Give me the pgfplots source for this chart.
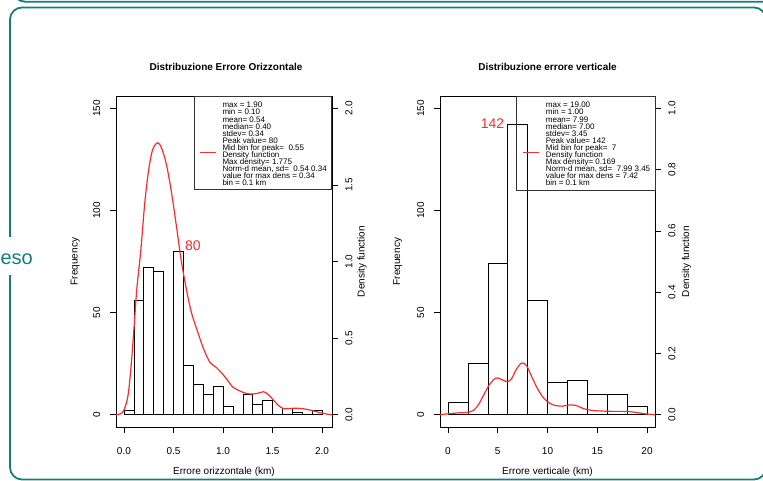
\documentclass[border=0pt]{standalone}
\usepackage{pgfplots}
\pgfplotsset{compat=1.18}
\usepackage{fontspec}
\setmainfont{Liberation Sans}
\definecolor{frame}{RGB}{18,128,120}
\definecolor{rred}{RGB}{250,45,45}
\newcommand{\tenpt}{\fontsize{10}{12}\selectfont}
\newcommand{\legfont}{\fontsize{8}{8}\selectfont}
\pgfplotsset{
  rbase/.style={scale only axis, height=331pt, anchor=south west,
    /pgf/number format/assume math mode=true,
    tick align=outside, major tick length=6pt,
    tick style={black, line width=0.6pt},
    axis line style={line width=0.6pt},
    ticklabel style={font=\tenpt},
  },
  freqaxis/.style={rbase, ymin=-6, ymax=156, ytick={0,50,100,150},
    xtick pos=left, ytick pos=left,
    yticklabel style={xshift=-9.5pt, rotate=90, anchor=south, inner sep=0pt},
    xticklabel style={anchor=north, inner sep=0pt, yshift=-14pt},
  },
  densaxis/.style={rbase, axis y line*=right, axis x line=none,
    yticklabel style={xshift=7.2pt, rotate=90, anchor=north, inner sep=0pt,
      /pgf/number format/.cd, fixed, fixed zerofill, precision=1},
  },
}
\begin{document}
\begin{tikzpicture}[x=1pt,y=1pt]
\path[use as bounding box] (0,0) rectangle (763,480);
\clip (0,0) rectangle (763,480);
\fill[white] (0,0) rectangle (763,480);
\draw[frame, line width=1.8pt, rounded corners=12pt] (13,478.3) rectangle (780,540);
\draw[frame, line width=1.8pt, rounded corners=12pt] (10,0.5) rectangle (766,472.5);
\fill[white] (0,205) rectangle (24,243);
\node[anchor=base east, inner sep=0pt, text=frame, font=\fontsize{20}{21}\selectfont] at (33,215) {eso};

% ---------- left plot ----------
\begin{axis}[freqaxis, at={(116pt,53pt)}, width=216pt,
  xmin=-0.08, xmax=2.1, xtick={0,0.5,1,1.5,2},
  xticklabel style={/pgf/number format/.cd, fixed, fixed zerofill, precision=1}]
\addplot[ybar interval, draw=black, fill=none, line width=0.55pt] coordinates {
(0.0,2) (0.1,56) (0.2,72) (0.3,70) (0.4,0) (0.5,80) (0.6,24) (0.7,15) (0.8,10) (0.9,14)
(1.0,4) (1.1,0) (1.2,10) (1.3,5) (1.4,7) (1.5,0) (1.6,3) (1.7,1) (1.8,0) (1.9,2) (2.0,2)};
\node[text=rred, anchor=base west, inner sep=0pt, font=\fontsize{14}{14}\selectfont] at (axis cs:0.616,80.4) {80};
\end{axis}
\begin{axis}[densaxis, at={(116pt,53pt)}, width=216pt,
  xmin=-0.08, xmax=2.1, ymin=-0.08, ymax=2.08, ytick={0,0.5,1,1.5,2}]
\addplot[rred, line width=1.2pt, smooth] coordinates {
(-0.08,0) (-0.04,0.005) (0,0.03) (0.04,0.12) (0.07,0.3) (0.1,0.55) (0.13,0.82) (0.17,1.07)
(0.21,1.38) (0.25,1.6) (0.29,1.73) (0.34,1.775) (0.38,1.74) (0.43,1.63) (0.48,1.45)
(0.53,1.23) (0.58,1.0) (0.63,0.82) (0.68,0.67) (0.75,0.53) (0.81,0.42) (0.87,0.34)
(0.93,0.31) (0.99,0.27) (1.04,0.23) (1.1,0.18) (1.17,0.155) (1.23,0.14) (1.29,0.135)
(1.35,0.14) (1.41,0.15) (1.46,0.13) (1.51,0.095) (1.56,0.06) (1.61,0.04) (1.67,0.04)
(1.73,0.043) (1.8,0.04) (1.86,0.033) (1.92,0.024) (2.0,0.01) (2.07,0.002) (2.1,0)};
\end{axis}

% ---------- right plot ----------
\begin{axis}[freqaxis, at={(440pt,53pt)}, width=215pt,
  xmin=-0.8, xmax=20.8, xtick={0,5,10,15,20}]
\addplot[ybar interval, draw=black, fill=none, line width=0.55pt] coordinates {
(0,6) (2,25) (4,74) (6,142) (8,56) (10,16) (12,17) (14,10) (16,10) (18,4) (20,4)};
\node[text=rred, anchor=base east, inner sep=0pt, font=\fontsize{14}{14}\selectfont] at (axis cs:5.67,140.3) {142};
\end{axis}
\begin{axis}[densaxis, at={(440pt,53pt)}, width=215pt,
  xmin=-0.8, xmax=20.8, ymin=-0.04, ymax=1.04, ytick={0,0.2,0.4,0.6,0.8,1.0}]
\addplot[rred, line width=1.2pt, smooth] coordinates {
(-0.8,0) (0,0.003) (1,0.006) (2,0.008) (2.6,0.015) (3.1,0.035) (3.6,0.065) (4.1,0.095)
(4.6,0.115) (5,0.12) (5.5,0.113) (6,0.108) (6.4,0.118) (6.9,0.15) (7.42,0.169) (7.9,0.16)
(8.4,0.125) (9,0.085) (9.6,0.055) (10.2,0.038) (10.8,0.03) (11.5,0.028) (12.2,0.032)
(12.9,0.03) (13.6,0.02) (14.5,0.014) (15.5,0.012) (16.5,0.011) (17.5,0.011) (18.3,0.01)
(19,0.007) (19.8,0.003) (20.8,0)};
\end{axis}

% ---------- titles and labels ----------
\node[font=\bfseries\tenpt, anchor=base] at (226,409.4) {Distribuzione Errore Orizzontale};
\node[font=\bfseries\tenpt, anchor=base] at (547.5,409.4) {Distribuzione errore verticale};
\node[font=\tenpt, anchor=base] at (224,5.4) {Errore orizzontale (km)};
\node[font=\tenpt, anchor=base] at (547.5,5.4) {Errore verticale (km)};
\node[font=\tenpt, rotate=90, anchor=base] at (77.5,218.5) {Frequency};
\node[font=\tenpt, rotate=90, anchor=base] at (364.5,218.5) {Density function};
\node[font=\tenpt, rotate=90, anchor=base] at (400,218.5) {Frequency};
\node[font=\tenpt, rotate=90, anchor=base] at (689,218.5) {Density function};

% ---------- legends ----------
\draw[black!80, line width=0.6pt] (194,291) rectangle (331.5,384);
\draw[rred, line width=0.6pt] (200,327.3) -- (216,327.3);
\foreach \t [count=\i] in {{max = 1.90},{min = 0.10},{mean= 0.54},{median= 0.40},{stdev= 0.34},{Peak value= 80},{Mid bin for peak=\ \ 0.55},{Density function},{Max density= 1.775},{Norm-d mean, sd=\ \ 0.54 0.34},{value for max dens = 0.34},{bin = 0.1 km}}
  \node[anchor=base west, inner sep=0pt, font=\legfont] at (222.3,{372.1-7.1*(\i-1)}) {\t};
\draw[black!80, line width=0.6pt] (516.7,290) rectangle (655,384);
\draw[rred, line width=0.6pt] (523,327.3) -- (539,327.3);
\foreach \t [count=\i] in {{max = 19.00},{min = 1.00},{mean= 7.99},{median= 7.00},{stdev= 3.45},{Peak value= 142},{Mid bin for peak=\ \ 7},{Density function},{Max density= 0.169},{Norm-d mean, sd=\ \ 7.99 3.45},{value for max dens = 7.42},{bin = 0.1 km}}
  \node[anchor=base west, inner sep=0pt, font=\legfont] at (545.7,{372.1-7.1*(\i-1)}) {\t};
\end{tikzpicture}
\end{document}
